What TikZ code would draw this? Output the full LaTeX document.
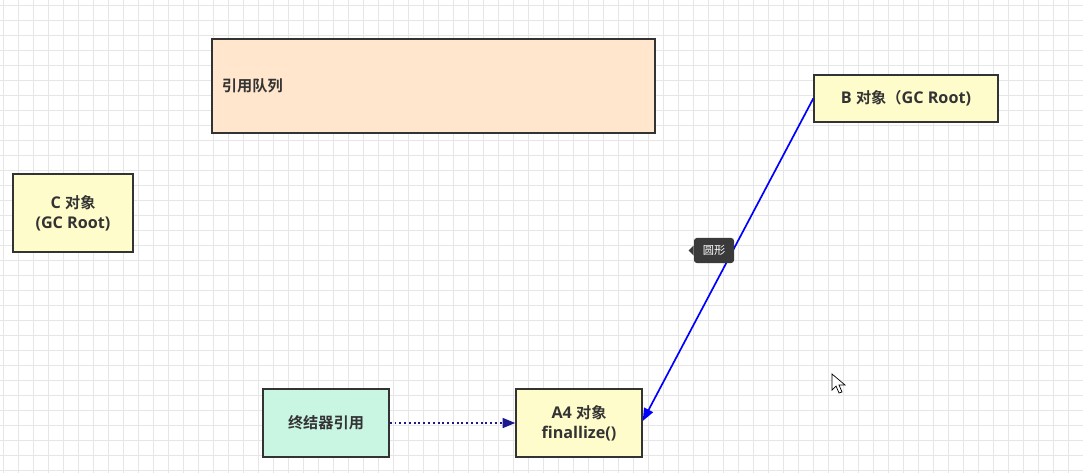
\documentclass[tikz,border=0pt]{standalone}
\usepackage{fontspec}
\setmainfont{Open Sans}
\newfontfamily\cjk{Noto Sans CJK SC}[BoldFont={Noto Sans CJK SC Bold}]
\usepackage{xcolor}
\usepackage{tikz}
\usetikzlibrary{arrows.meta,positioning,calc}

\definecolor{queuefill}{HTML}{FFE6CC}
\definecolor{objfill}{HTML}{FFFCCC}
\definecolor{finfill}{HTML}{C9F5E3}
\definecolor{boxline}{HTML}{333333}
\definecolor{gridgray}{HTML}{E6E6E6}
\definecolor{tipgray}{HTML}{3A3A3A}
\definecolor{dotblue}{HTML}{1A1A8C}
\newcommand{\zh}[1]{{\cjk\fontsize{10.8}{13}\selectfont #1}}

\begin{document}
\begin{tikzpicture}[x=0.025cm, y=-0.025cm,
box/.style={draw=boxline, line width=1pt, font=\bfseries\fontsize{11.5}{14}\selectfont, text=boxline, align=center, inner sep=0pt},
obj/.style={box, fill=objfill},
line/.style={-{Triangle[length=9pt,width=7pt]}, blue, line width=1.2pt},
dotline/.style={-{Triangle[length=9pt,width=7pt]}, dotblue, line width=1.4pt, dotted},
tooltip/.style={fill=tipgray, rounded corners=2pt, text=white, font=\cjk\fontsize{8}{9}\selectfont, minimum width=1cm, minimum height=0.625cm, inner sep=0pt}
]
\useasboundingbox (0,0) rectangle (1083,473);
\fill[white] (0,0) rectangle (1083,473);
% grid
\foreach \gx in {3,18,...,1083} \draw[gridgray, line width=0.5pt] (\gx,0) -- (\gx,473);
\foreach \gy in {5,20,...,473} \draw[gridgray, line width=0.5pt] (0,\gy) -- (1083,\gy);

\node[box, fill=queuefill, minimum width=11.075cm, minimum height=2.35cm, text width=10.575cm, align=left] (queue) at (433.5,86) {\zh{引用队列}};
\node[obj, minimum width=4.6cm, minimum height=1.175cm] (broot) at (906,98.5) {B \zh{对象（}GC Root)};
\node[obj, minimum width=3cm, minimum height=1.95cm] (croot) at (73,213) {C \zh{对象}\\(GC Root)};
\node[obj, minimum width=3.15cm, minimum height=1.7cm] (afour) at (579,423) {A4 \zh{对象}\\finallize()};
\node[box, fill=finfill, minimum width=3.15cm, minimum height=1.7cm] (finref) at (326,423) {\zh{终结器引用}};

\draw[dotline] (finref) -- (afour);
\draw[line] (broot.west) -- ($(afour.east)+(0,-2)$);

% tooltip
\node[tooltip] (tip) at (714,250.5) {圆形};
\fill[tipgray] (tip.west) ++(0,-5) -- ++(-5,5) -- ++(5,5) -- cycle;

% cursor
\filldraw[fill=white, draw=black, line width=0.5pt] (832,374) -- (832,390) -- (836,386) -- (839,393) -- (842,392) -- (839,385) -- (845,385) -- cycle;
\end{tikzpicture}
\end{document}
